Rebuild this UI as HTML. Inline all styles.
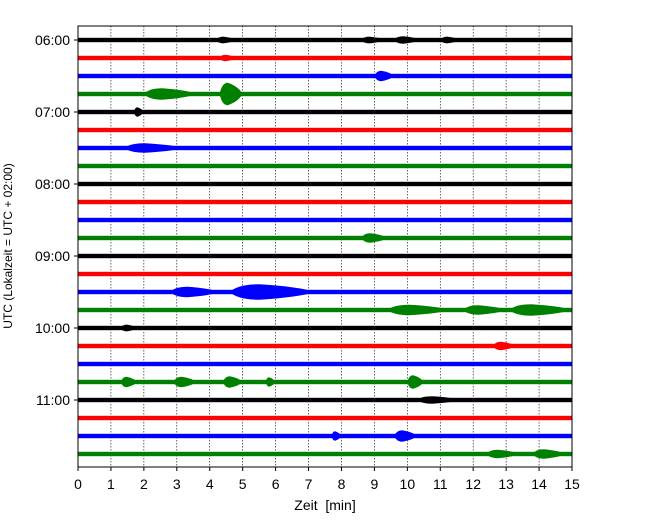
<!DOCTYPE html>
<html><head><meta charset="utf-8"><style>
body{margin:0;background:#fff;}
svg text{font-family:"Liberation Sans","DejaVu Sans",sans-serif;}
</style></head><body>
<svg id="chart" width="650" height="520">
<rect x="0" y="0" width="650" height="520" fill="#fff"/>
<g id="grid"></g><g id="traces"></g><g id="axes"></g>
</svg>
<script>
const rowColors=["#000000","#ff0000","#0000ff","#008000"];
const rowCount=24;
const hourLabels=["06:00","07:00","08:00","09:00","10:00","11:00"];
const xTicks=[0,1,2,3,4,5,6,7,8,9,10,11,12,13,14,15];
// events: row, start min, end min, amplitude (half-height in units)
const evRow=  [0,0,0,0,1,2,3,3,4,6,11,14,14,15,15,15,16,17,19,19,19,19,19,20,22,22,23,23];
const evStart=[4.2,8.6,9.6,11.0,4.3,9.0,2.0,4.3,1.7,1.4,8.6,2.8,4.6,9.4,11.7,13.1,1.3,12.6,1.3,2.9,4.4,5.7,10.0,10.3,7.7,9.6,12.4,13.8];
const evEnd=  [4.8,9.3,10.4,11.6,4.8,9.6,3.6,5.0,2.0,3.2,9.4,4.3,7.2,11.3,13.0,15.0,1.8,13.3,1.8,3.6,5.0,6.0,10.5,11.6,8.0,10.3,13.4,14.8];
const evAmp=  [1.2,1.2,1.5,1.2,1.0,3,3.5,9,2.5,2.5,2.5,3,5.5,3,2.5,3.5,1.2,2,3,3,3.5,2.5,4.5,1.5,2.5,3.5,2,2.5];

const X0=78,X1=572,Y0=26,Y1=467,R0=40,RS=18;
const xs=m=>X0+(m/15)*(X1-X0);
const ys=r=>R0+r*RS;
const NS="http://www.w3.org/2000/svg";
function mk(t,a,p){const e=document.createElementNS(NS,t);for(const k in a)e.setAttribute(k,a[k]);p.appendChild(e);return e;}
const grid=document.getElementById('grid'),tr=document.getElementById('traces'),ax=document.getElementById('axes');
xTicks.forEach(t=>{if(t>0&&t<15){const l=mk('line',{x1:xs(t),x2:xs(t),y1:Y0,y2:Y1,stroke:'#000','stroke-width':0.6,'stroke-dasharray':'1.5,1.5'},grid);

}});
for(let r=0;r<rowCount;r++){
 const b=mk('rect',{x:X0,y:ys(r)-2.2,width:X1-X0,height:4.4,fill:rowColors[r%4]},tr);
 
 
}
for(let i=0;i<evRow.length;i++){
 const r=evRow[i],a=evStart[i],e=evEnd[i],h=2.2+evAmp[i],y=ys(r),c=rowColors[r%4];
 const mid=a+(e-a)*0.35;
 const d=`M${xs(a)},${y} Q${xs(a+(e-a)*0.1)},${y-h} ${xs(mid)},${y-h} Q${xs(e-(e-a)*0.2)},${y-h*0.7} ${xs(e)},${y} Q${xs(e-(e-a)*0.2)},${y+h*0.7} ${xs(mid)},${y+h} Q${xs(a+(e-a)*0.1)},${y+h} ${xs(a)},${y}Z`;
 const p=mk('path',{d:d,fill:c},tr);
 
 
}
const f=mk('rect',{x:X0,y:Y0,width:X1-X0,height:Y1-Y0,fill:'none',stroke:'#000','stroke-width':1},ax);


xTicks.forEach(t=>{mk('line',{x1:xs(t),x2:xs(t),y1:Y1,y2:Y1+4,stroke:'#000'},ax);
 const tx=mk('text',{x:xs(t),y:Y1+22,'font-size':14,'text-anchor':'middle'},ax);tx.textContent=t;
 
 });
hourLabels.forEach((h,i)=>{const y=ys(i*4);mk('line',{x1:X0-4,x2:X0,y1:y,y2:y,stroke:'#000'},ax);
 const tx=mk('text',{x:X0-8,y:y+5,'font-size':14,'text-anchor':'end'},ax);tx.textContent=h;
 
 });
const xt=mk('text',{x:325,y:510,'font-size':14,'text-anchor':'middle',style:'white-space:pre'},ax);xt.textContent='Zeit  [min]';


const yt=mk('text',{x:0,y:0,'font-size':12,'text-anchor':'middle',transform:'translate(12,246) rotate(-90)'},ax);yt.textContent='UTC (Lokalzeit = UTC + 02:00)';


</script>
</body></html>
